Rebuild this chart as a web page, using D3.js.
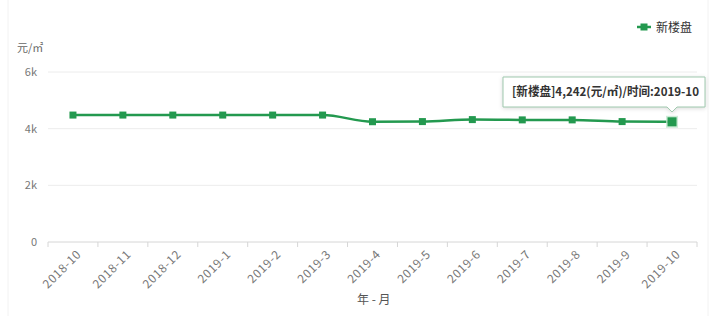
<!DOCTYPE html>
<html>
<head>
<meta charset="utf-8">
<script src="https://cdn.jsdelivr.net/npm/d3@7"></script>
<style>
  body { margin: 0; background: #fff; }
  svg { display: block; font-family: "Noto Sans CJK SC", "Noto Sans", sans-serif; }
</style>
</head>
<body>
<div id="chart"></div>
<script>
/* DATA */
const months = ["2018-10", "2018-11", "2018-12", "2019-1", "2019-2", "2019-3", "2019-4",
  "2019-5", "2019-6", "2019-7", "2019-8", "2019-9", "2019-10"];
const prices = [4480, 4480, 4480, 4480, 4480, 4480, 4245, 4250, 4320, 4310, 4310, 4250, 4242];
const yTicks = [0, 2000, 4000, 6000];
const seriesName = "新楼盘";

/* CONSTANTS */
const width = 725;
const height = 316;
const margin = { top: 72, right: 28, bottom: 74, left: 48 };
const green = "#23994f";

const svg = d3.select("#chart")
  .append("svg")
  .attr("width", width)
  .attr("height", height);

// card edges
svg.append("line").attr("x1", 8).attr("x2", 8).attr("y1", 0).attr("y2", height)
  .attr("stroke", "#f2f2f2");
svg.append("line").attr("x1", 708).attr("x2", 708).attr("y1", 0).attr("y2", height)
  .attr("stroke", "#f2f2f2");

// SCALES
const xScale = d3.scaleBand()
  .domain(months)
  .range([margin.left, width - margin.right]);

const yScale = d3.scaleLinear()
  .domain([0, 6000])
  .range([height - margin.bottom, margin.top]);

const cx = d => xScale(d) + xScale.bandwidth() / 2;

// grid
svg.append("g")
  .selectAll("line")
  .data(yTicks.slice(1))
  .join("line")
    .attr("x1", margin.left)
    .attr("x2", width - margin.right)
    .attr("y1", d => yScale(d))
    .attr("y2", d => yScale(d))
    .attr("stroke", "#ececec");

// y tick labels
svg.append("g")
  .selectAll("text")
  .data(yTicks)
  .join("text")
    .attr("x", 37)
    .attr("y", d => yScale(d) + 4)
    .attr("text-anchor", "end")
    .attr("fill", "#777")
    .style("font-size", "11px")
    .text(d => d === 0 ? "0" : d3.format("~s")(d));

svg.append("text")
  .attr("x", 17)
  .attr("y", 52)
  .attr("fill", "#666")
  .style("font-size", "11px")
  .text("元/㎡");

// x axis
const xAxis = svg.append("g")
  .attr("transform", `translate(0, ${yScale(0)})`);

xAxis.append("line")
  .attr("x1", margin.left).attr("x2", width - margin.right)
  .attr("stroke", "#d6d6d6");

const bounds = months.map(m => xScale(m)).concat([xScale.range()[1]]);
xAxis.selectAll(".tick")
  .data(bounds)
  .join("line")
    .attr("class", "tick")
    .attr("x1", d => d).attr("x2", d => d)
    .attr("y1", 0).attr("y2", 5)
    .attr("stroke", "#d6d6d6");

xAxis.selectAll(".xlabel")
  .data(months)
  .join("text")
    .attr("class", "xlabel")
    .attr("text-anchor", "end")
    .attr("fill", "#777")
    .style("font-size", "12px")
    .style("letter-spacing", "0.6px")
    .attr("transform", d => `translate(${cx(d) + 9}, 13) rotate(-45)`)
    .text(d => d);

svg.append("text")
  .attr("x", 357)
  .attr("y", 304)
  .attr("fill", "#555")
  .style("font-size", "12px")
  .text("年 - 月");

// LINE
const line = d3.line()
  .x((d, i) => cx(months[i]))
  .y(d => yScale(d))
  .curve(d3.curveMonotoneX);

svg.append("path")
  .datum(prices)
  .attr("d", line)
  .attr("fill", "none")
  .attr("stroke", green)
  .attr("stroke-width", 2.5);

svg.append("g")
  .selectAll("rect")
  .data(prices)
  .join("rect")
    .attr("x", (d, i) => cx(months[i]) - 3.5)
    .attr("y", d => yScale(d) - 3.5)
    .attr("width", 7)
    .attr("height", 7)
    .attr("fill", green);

// highlighted last point
const last = prices.length - 1;
svg.append("rect")
  .attr("x", cx(months[last]) - 6)
  .attr("y", yScale(prices[last]) - 6)
  .attr("width", 12).attr("height", 12)
  .attr("fill", "#bfe6cc").attr("opacity", 0.8);
svg.append("rect")
  .attr("x", cx(months[last]) - 4.5)
  .attr("y", yScale(prices[last]) - 4.5)
  .attr("width", 9).attr("height", 9)
  .attr("fill", green);

// tooltip
const tip = svg.append("g");
const tipX = 503, tipY = 77, tipW = 202, tipH = 30;
const ax = cx(months[last]);
tip.append("path")
  .attr("d", `M${tipX},${tipY} h${tipW} v${tipH} H${ax + 5} l-5,5 l-5,-5 H${tipX} Z`)
  .attr("fill", "#fff")
  .attr("stroke", "#9fc9ae")
  .attr("stroke-width", 1)
  .style("filter", "drop-shadow(0 1px 2px rgba(0,0,0,0.15))");
tip.append("text")
  .attr("x", tipX + 9)
  .attr("y", tipY + 19)
  .attr("fill", "#333")
  .style("font-size", "12px")
  .style("font-weight", "bold")
  .attr("textLength", 187)
  .attr("lengthAdjust", "spacingAndGlyphs")
  .text(`[${seriesName}]${d3.format(",")(prices[last])}(元/㎡)/时间:${months[last]}`);

// legend
const legend = svg.append("g").attr("transform", "translate(637, 27)");
legend.append("line").attr("x1", 0).attr("x2", 14)
  .attr("stroke", green).attr("stroke-width", 2.5);
legend.append("rect").attr("x", 3.5).attr("y", -3.5).attr("width", 7).attr("height", 7)
  .attr("fill", green);
legend.append("text").attr("x", 19).attr("y", 4.5)
  .attr("fill", "#333")
  .style("font-size", "12px")
  .text(seriesName);
</script>
</body>
</html>
